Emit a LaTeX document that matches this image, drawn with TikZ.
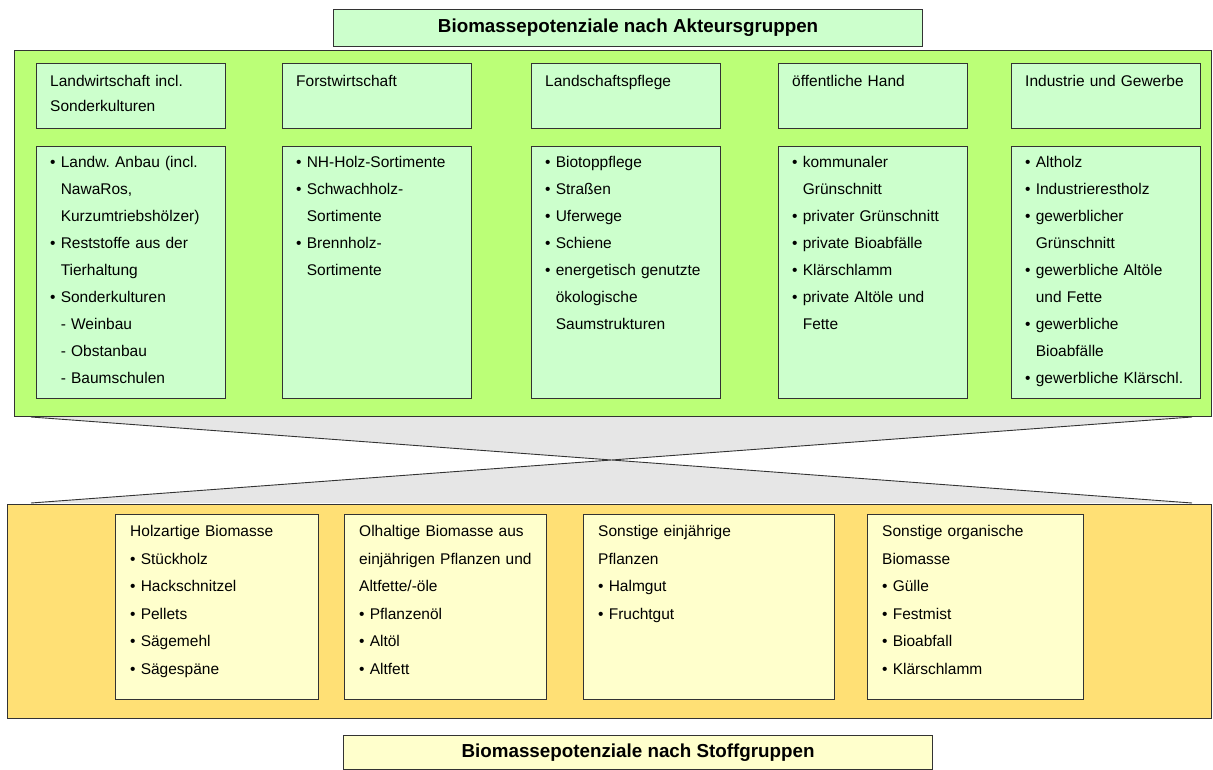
\documentclass[tikz,border=0pt]{standalone}
\usepackage{fontspec}
\setmainfont{Liberation Sans}
\usetikzlibrary{positioning,calc}
\definecolor{akteurgruen}{RGB}{187,255,119}
\definecolor{kastengruen}{RGB}{204,255,204}
\definecolor{stoffgelb}{RGB}{255,224,117}
\definecolor{kastengelb}{RGB}{255,255,204}
\definecolor{trichtergrau}{RGB}{230,230,230}
\definecolor{rand}{RGB}{51,51,51}
\newcommand{\pkt}{\textbullet\ }
\newcommand{\ein}{\hphantom{\textbullet\ }}
\tikzset{
  kasten/.style={draw=rand,line width=1.2pt,anchor=north west,inner sep=0pt},
  titel/.style={kasten,font=\bfseries\fontsize{18.8}{20}\selectfont},
  hdbox/.style={kasten,fill=kastengruen,minimum width=189pt,minimum height=65pt},
  lstbox/.style={kasten,fill=kastengruen,minimum width=189pt,minimum height=252pt},
  grpbox/.style={kasten,fill=kastengelb,minimum height=185pt},
  txt/.style={anchor=base west,inner sep=0pt,align=left,text width=#1},
  txt/.default=180pt,
  hdtxt/.style={txt,font=\fontsize{15.5}{25}\selectfont},
  lsttxt/.style={txt,font=\fontsize{15.5}{27}\selectfont},
  grptxt/.style={txt=240pt,font=\fontsize{15.5}{27.6}\selectfont}
}
\begin{document}
\begin{tikzpicture}[x=1pt,y=-1pt]
    \useasboundingbox (0,0) rectangle (1213,770);

    % Akteursgruppen
    \node[titel,fill=kastengruen,minimum width=589pt,minimum height=37pt] (titleA) at (333,9) {Biomassepotenziale nach Akteursgruppen};
    \node[kasten,fill=akteurgruen,minimum width=1197pt,minimum height=366pt] (akteur) at (14,50) {};

    \node[hdbox] (hd1) at (36,63) {};
    \node[hdbox] (hd2) at (282,63) {};
    \node[hdbox] (hd3) at (531,63) {};
    \node[hdbox] (hd4) at (778,63) {};
    \node[hdbox] (hd5) at (1011,63) {};
    \node[hdtxt] (hd1t) at ($(hd1.north west)+(14,24)$) {Landwirtschaft incl.\\Sonderkulturen};
    \node[hdtxt] (hd2t) at ($(hd2.north west)+(14,24)$) {Forstwirtschaft};
    \node[hdtxt] (hd3t) at ($(hd3.north west)+(14,24)$) {Landschaftspflege};
    \node[hdtxt] (hd4t) at ($(hd4.north west)+(14,24)$) {öffentliche Hand};
    \node[hdtxt] (hd5t) at ($(hd5.north west)+(14,24)$) {Industrie und Gewerbe};

    \node[lstbox] (lst1) at (36,146) {};
    \node[lstbox] (lst2) at (282,146) {};
    \node[lstbox] (lst3) at (531,146) {};
    \node[lstbox] (lst4) at (778,146) {};
    \node[lstbox] (lst5) at (1011,146) {};
    \node[lsttxt] (lst1t) at ($(lst1.north west)+(14,21.5)$) {\pkt Landw.\ Anbau (incl.\\\ein NawaRos,\\\ein Kurzumtriebshölzer)\\\pkt Reststoffe aus der\\\ein Tierhaltung\\\pkt Sonderkulturen\\\ein - Weinbau\\\ein - Obstanbau\\\ein - Baumschulen};
    \node[lsttxt] (lst2t) at ($(lst2.north west)+(14,21.5)$) {\pkt NH-Holz-Sortimente\\\pkt Schwachholz-\\\ein Sortimente\\\pkt Brennholz-\\\ein Sortimente};
    \node[lsttxt] (lst3t) at ($(lst3.north west)+(14,21.5)$) {\pkt Biotoppflege\\\pkt Straßen\\\pkt Uferwege\\\pkt Schiene\\\pkt energetisch genutzte\\\ein ökologische\\\ein Saumstrukturen};
    \node[lsttxt] (lst4t) at ($(lst4.north west)+(14,21.5)$) {\pkt kommunaler\\\ein Grünschnitt\\\pkt privater Grünschnitt\\\pkt private Bioabfälle\\\pkt Klärschlamm\\\pkt private Altöle und\\\ein Fette};
    \node[lsttxt] (lst5t) at ($(lst5.north west)+(14,21.5)$) {\pkt Altholz\\\pkt Industrierestholz\\\pkt gewerblicher\\\ein Grünschnitt\\\pkt gewerbliche Altöle\\\ein und Fette\\\pkt gewerbliche\\\ein Bioabfälle\\\pkt gewerbliche Klärschl.};

    % Trichter
    \coordinate (tl) at (31,417);
    \coordinate (tr) at (1192,417);
    \coordinate (bl) at (31,503);
    \coordinate (br) at (1192,503);
    \coordinate (mid) at (611.5,460);
    \fill[trichtergrau] (tl) -- (tr) -- (mid) -- cycle;
    \fill[trichtergrau] (bl) -- (br) -- (mid) -- cycle;
    \draw[rand,line width=0.9pt] (tl) -- (br) (tr) -- (bl);

    % Stoffgruppen
    \node[kasten,fill=stoffgelb,minimum width=1204pt,minimum height=214pt] (stoff) at (7,504) {};
    \node[grpbox,minimum width=203pt] (grp1) at (115,514) {};
    \node[grpbox,minimum width=202pt] (grp2) at (344,514) {};
    \node[grpbox,minimum width=251pt] (grp3) at (583,514) {};
    \node[grpbox,minimum width=216pt] (grp4) at (867,514) {};
    \node[grptxt] (grp1t) at ($(grp1.north west)+(15,22.5)$) {Holzartige Biomasse\\\pkt Stückholz\\\pkt Hackschnitzel\\\pkt Pellets\\\pkt Sägemehl\\\pkt Sägespäne};
    \node[grptxt] (grp2t) at ($(grp2.north west)+(15,22.5)$) {Olhaltige Biomasse aus\\einjährigen Pflanzen und\\Altfette/-öle\\\pkt Pflanzenöl\\\pkt Altöl\\\pkt Altfett};
    \node[grptxt] (grp3t) at ($(grp3.north west)+(15,22.5)$) {Sonstige einjährige\\Pflanzen\\\pkt Halmgut\\\pkt Fruchtgut};
    \node[grptxt] (grp4t) at ($(grp4.north west)+(15,22.5)$) {Sonstige organische\\Biomasse\\\pkt Gülle\\\pkt Festmist\\\pkt Bioabfall\\\pkt Klärschlamm};
    \node[titel,fill=kastengelb,minimum width=589pt,minimum height=34pt] (titleB) at (343,735) {Biomassepotenziale nach Stoffgruppen};

\end{tikzpicture}
\end{document}
